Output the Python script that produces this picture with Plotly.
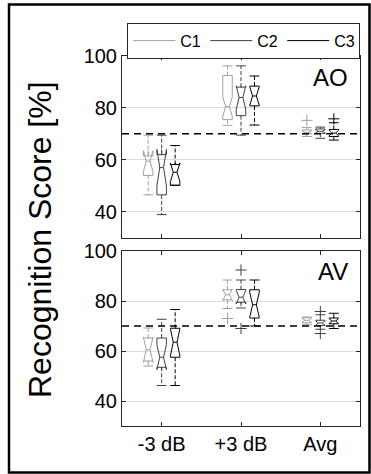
import plotly.graph_objects as go

# ---------------- data ----------------
categories = ["-3 dB", "+3 dB", "Avg"]
conditions = ["C1", "C2", "C3"]
panel_labels = ["AO", "AV"]
y_ticks = [40, 60, 80, 100]
criterion = 70

# AO panel: per condition (C1, C2, C3), values per category (-3 dB, +3 dB, Avg)
ao_lower = [[46.5, 73.3, 69.0], [38.9, 69.5, 68.3], [50.2, 73.4, 67.6]]
ao_q1 = [[54.0, 75.5, 70.0], [46.5, 77.0, 70.2], [50.2, 80.8, 69.0]]
ao_median = [[59.5, 80.5, 70.6], [57.0, 84.0, 71.0], [55.2, 84.6, 70.3]]
ao_q3 = [[61.5, 92.5, 71.5], [62.0, 88.0, 71.9], [58.2, 88.4, 71.7]]
ao_upper = [[69.5, 96.2, 72.5], [69.5, 96.2, 72.6], [65.5, 92.3, 74.3]]
ao_notch = [[4.0, 3.8, 0.6], [7.0, 4.5, 0.6], [3.6, 3.6, 1.1]]
ao_out_cat = [["Avg"], [], ["Avg"]]
ao_out_val = [[75.2], [], [75.8]]

# AV panel
av_lower = [[54.0, 77.0, 70.5], [46.2, 77.2, 68.7], [46.2, 70.0, 69.0]]
av_q1 = [[56.0, 80.5, 71.3], [53.5, 79.5, 70.2], [57.5, 73.2, 70.9]]
av_median = [[60.5, 82.5, 72.3], [57.5, 81.5, 71.2], [63.5, 78.5, 72.0]]
av_q3 = [[65.2, 84.5, 73.3], [65.2, 84.6, 72.3], [69.1, 84.5, 73.2]]
av_upper = [[69.2, 88.4, 73.6], [72.7, 88.4, 74.5], [76.6, 88.4, 75.1]]
av_notch = [[5.0, 2.3, 0.8], [5.0, 2.7, 0.9], [5.5, 5.0, 1.0]]
av_out_cat = [["+3 dB"], ["+3 dB", "+3 dB", "Avg", "Avg"], []]
av_out_val = [[73.0], [92.4, 69.0, 75.8, 67.0], []]

# ---------------- style ----------------
colors = ["#a0a0a0", "#404040", "#000000"]
offsets = [-0.17, 0.0, 0.17]
box_width = 0.12
FONT = "Liberation Sans, Arial, Helvetica, sans-serif"
AX = "#262626"

W, H = 371, 474
ML, MR, MT, MB = 122, 11, 56, 48
PW = W - ML - MR
PH = H - MT - MB


def px_x(p):
    return (p - ML) / PW


def px_y(p):
    return 1 - (p - MT) / PH


fig = go.Figure()

panels = [
    (ao_lower, ao_q1, ao_median, ao_q3, ao_upper, ao_notch, ao_out_cat, ao_out_val, "x", "y"),
    (av_lower, av_q1, av_median, av_q3, av_upper, av_notch, av_out_cat, av_out_val, "x2", "y2"),
]

for (lo, q1, med, q3, up, notch, oc, ov, xa, ya) in panels:
    for ci, cond in enumerate(conditions):
        pos = [k + 1 + offsets[ci] for k in range(len(categories))]
        col = colors[ci]
        # dashed whiskers
        wx, wy = [], []
        for k, p in enumerate(pos):
            wx += [p, p, None, p, p, None]
            wy += [q3[ci][k], up[ci][k], None, q1[ci][k], lo[ci][k], None]
        fig.add_trace(go.Scatter(
            x=wx, y=wy, mode="lines", xaxis=xa, yaxis=ya,
            line=dict(color=col, width=1, dash="4px,2px"),
            showlegend=False, hoverinfo="skip"))
        # caps
        fig.add_trace(go.Scatter(
            x=pos + pos, y=up[ci] + lo[ci], mode="markers", xaxis=xa, yaxis=ya,
            marker=dict(symbol="line-ew", size=7, line=dict(color=col, width=1)),
            showlegend=False, hoverinfo="skip"))
        # notched boxes
        fig.add_trace(go.Box(
            x=pos, q1=q1[ci], median=med[ci], q3=q3[ci],
            lowerfence=q1[ci], upperfence=q3[ci], notchspan=notch[ci],
            notched=True, notchwidth=0.3, width=box_width,
            line=dict(color=col, width=1), fillcolor="rgba(0,0,0,0)",
            whiskerwidth=0, boxpoints=False, xaxis=xa, yaxis=ya,
            showlegend=False, hoverinfo="skip"))
        # outliers
        if ov[ci]:
            ox = [categories.index(c) + 1 + offsets[ci] for c in oc[ci]]
            fig.add_trace(go.Scatter(
                x=ox, y=ov[ci], mode="markers", xaxis=xa, yaxis=ya,
                marker=dict(symbol="cross-thin", size=8, line=dict(color=col, width=1)),
                showlegend=False, hoverinfo="skip"))

# legend entries
for ci, cond in enumerate(conditions):
    fig.add_trace(go.Scatter(x=[None], y=[None], mode="lines", name=cond,
                             line=dict(color=colors[ci], width=1), showlegend=True))

axis_common = dict(showline=True, mirror="ticks", linecolor=AX, linewidth=1,
                   ticks="inside", ticklen=4, tickcolor=AX, zeroline=False,
                   tickfont=dict(family=FONT, size=20, color="#000000"))

top_dom = [1 - (237.7 - MT) / PH, 1.0]
bot_dom = [0.0, 1 - (251 - MT) / PH]

fig.update_layout(
    width=W, height=H,
    margin=dict(l=ML, r=MR, t=MT, b=MB),
    paper_bgcolor="white", plot_bgcolor="white",
    boxmode="overlay",
    xaxis=dict(domain=[0, 1], anchor="y", range=[0.5, 3.5], tickvals=[1, 2, 3],
               ticktext=categories, showticklabels=False, showgrid=False, **axis_common),
    yaxis=dict(domain=top_dom, anchor="x", range=[30, 100], tickvals=y_ticks,
               showgrid=True, gridcolor="#dcdcdc", gridwidth=1, **axis_common),
    xaxis2=dict(domain=[0, 1], anchor="y2", range=[0.5, 3.5], tickvals=[1, 2, 3],
                ticktext=categories, showgrid=False, **axis_common),
    yaxis2=dict(domain=bot_dom, anchor="x2", range=[30, 100], tickvals=y_ticks,
                showgrid=True, gridcolor="#dcdcdc", gridwidth=1, **axis_common),
    legend=dict(orientation="h", x=1.001, xanchor="right", y=px_y(22.7), yanchor="top",
                bordercolor=AX, borderwidth=1, bgcolor="white",
                font=dict(family=FONT, size=16, color="#000000"),
                itemwidth=42, entrywidth=20, entrywidthmode="pixels"),
    showlegend=True,
)

# criterion line in each panel
for xa, ya in [("x", "y"), ("x2", "y2")]:
    fig.add_shape(type="line", xref=f"{xa} domain", yref=ya, x0=0, x1=1,
                  y0=criterion, y1=criterion,
                  line=dict(color="#000000", width=1.5, dash="7px,5px"))

# panel labels
for lab, xa, ya in [(panel_labels[0], "x", "y"), (panel_labels[1], "x2", "y2")]:
    fig.add_annotation(text=lab, xref=f"{xa} domain", yref=f"{ya} domain",
                       x=0.96, y=0.882, xanchor="right", yanchor="middle",
                       showarrow=False, font=dict(family=FONT, size=24, color="#000000"))

# shared y title
fig.add_annotation(text="Recognition Score [%]", xref="paper", yref="paper",
                   x=px_x(40), y=px_y(240), textangle=-90, showarrow=False,
                   xanchor="center", yanchor="middle",
                   font=dict(family=FONT, size=32, color="#000000"))

# outer frame
fig.add_shape(type="rect", xref="paper", yref="paper",
              x0=px_x(9), x1=px_x(369.5), y0=px_y(472.5), y1=px_y(4.5),
              line=dict(color="#000000", width=2.5), fillcolor="rgba(0,0,0,0)")

fig.write_html("out.html",
               config={"displayModeBar": False},
               post_script="document.body.style.margin='0px';"
                           "document.documentElement.style.margin='0px';")
